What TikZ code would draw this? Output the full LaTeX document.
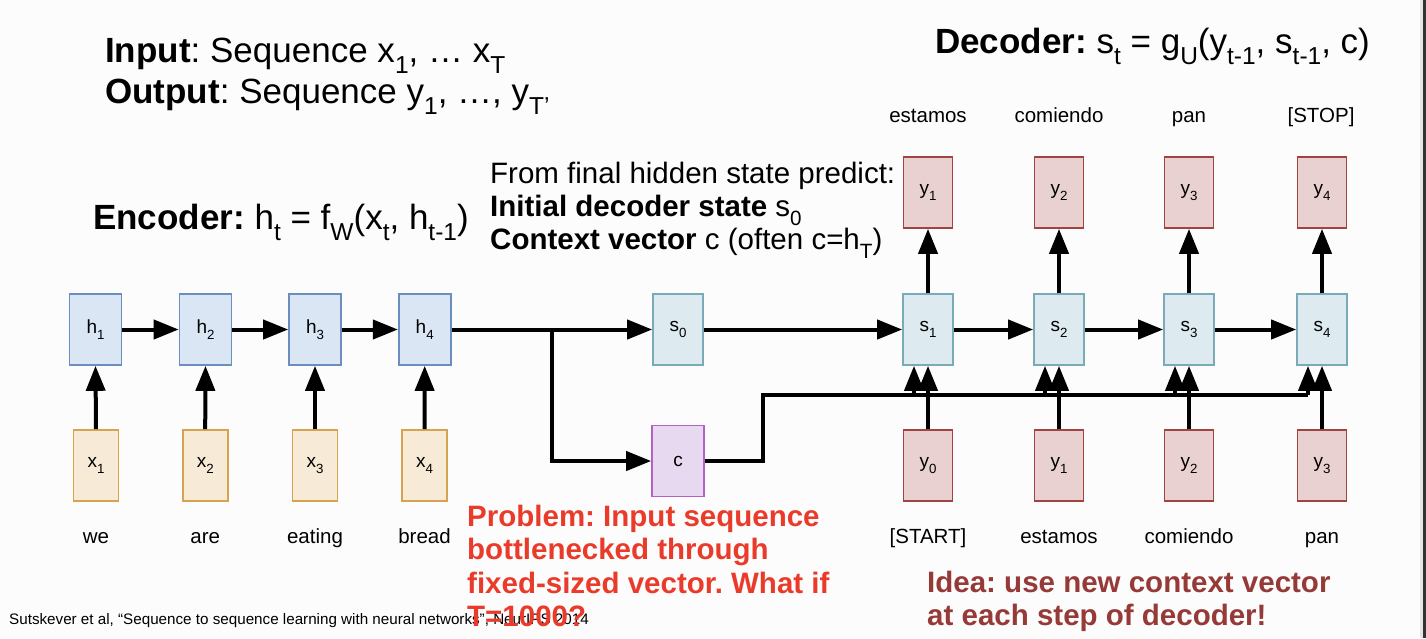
\documentclass[tikz,border=0pt]{standalone}
\usepackage{fontspec}
\setmainfont{Liberation Sans}
\usepackage{graphicx}
\usetikzlibrary{arrows.meta,calc}
\frenchspacing
\definecolor{bg}{HTML}{FCFCFC}
\definecolor{hfill}{HTML}{DAE6F4}
\definecolor{hdraw}{HTML}{6C8EBF}
\definecolor{xfill}{HTML}{F7EAD6}
\definecolor{xdraw}{HTML}{D6A350}
\definecolor{sfill}{HTML}{DDEAEF}
\definecolor{sdraw}{HTML}{7AAAB8}
\definecolor{cfill}{HTML}{E7D9EF}
\definecolor{cdraw}{HTML}{B75FC8}
\definecolor{yfill}{HTML}{E9D0D1}
\definecolor{ydraw}{HTML}{A04441}
\definecolor{probred}{HTML}{EA3B2A}
\definecolor{ideared}{HTML}{963A38}
\newcommand\sbs[1]{\raisebox{-0.32em}{\scalebox{0.7}{#1}}}
\tikzset{
  box/.style={rectangle, line width=1.6pt, minimum height=71pt, inner sep=0pt, font=\fontsize{19}{21}\selectfont},
  hbox/.style={box, minimum width=52pt, fill=hfill, draw=hdraw},
  xbox/.style={box, minimum width=45pt, fill=xfill, draw=xdraw},
  sbox/.style={box, minimum width=50pt, fill=sfill, draw=sdraw},
  cbox/.style={box, minimum width=52pt, fill=cfill, draw=cdraw},
  ybox/.style={box, minimum width=49pt, fill=yfill, draw=ydraw},
  arr/.style={line width=4pt, -{Triangle[length=25pt,width=19pt]}},
  ln/.style={line width=4pt},
  word/.style={font=\fontsize{20.5}{24}\selectfont, anchor=base, inner sep=0pt},
  title/.style={font=\fontsize{29.5}{32}\selectfont, anchor=base west, inner sep=0pt},
  bigtitle/.style={font=\fontsize{35}{40}\selectfont, anchor=base west, inner sep=0pt},
  prob/.style={font=\fontsize{29.5}{32}\selectfont\bfseries, text=probred, anchor=base west, inner sep=0pt},
  idea/.style={font=\fontsize{29.5}{32}\selectfont\bfseries, text=ideared, anchor=base west, inner sep=0pt},
}
\begin{document}
\begin{tikzpicture}[x=1pt,y=-1pt]
\fill[bg] (0,0) rectangle (1426,638);
\useasboundingbox (0,0) rectangle (1426,638);
\fill[gray!20] (1419.5,0) rectangle (1422.5,638);
\fill[black!80] (1422.5,0) rectangle (1426,638);

% titles
\node[bigtitle] (in1) at (105,62) {\textbf{Input}: Sequence x\sbs{1}, … x\sbs{T}};
\node[bigtitle] (in2) at (105,103) {\textbf{Output}: Sequence y\sbs{1}, …, y\sbs{T'}};
\node[bigtitle] (dect) at (935,53) {\textbf{Decoder:} s\sbs{t} = g\sbs{U}(y\sbs{t-1}, s\sbs{t-1}, c)};
\node[bigtitle] (enct) at (93,229) {\textbf{Encoder:} h\sbs{t} = f\sbs{W}(x\sbs{t}, h\sbs{t-1})};
\node[title] (fr1) at (490,183) {From final hidden state predict:};
\node[title] (fr2) at (490,216) {\textbf{Initial decoder state} s\sbs{0}};
\node[title] (fr3) at (490,249) {\textbf{Context vector} c (often c=h\sbs{T})};

% encoder
\node[hbox] (h1) at (95.5,329.5) {h\sbs{1}};
\node[hbox] (h2) at (205.5,329.5) {h\sbs{2}};
\node[hbox] (h3) at (315,329.5) {h\sbs{3}};
\node[hbox] (h4) at (424.7,329.5) {h\sbs{4}};
\node[xbox] (x1) at (96,465.5) {x\sbs{1}};
\node[xbox] (x2) at (205.2,465.5) {x\sbs{2}};
\node[xbox] (x3) at (315,465.5) {x\sbs{3}};
\node[xbox] (x4) at (424.5,465.5) {x\sbs{4}};
\node[word] (w1) at (96,543) {we};
\node[word] (w2) at (205.2,543) {are};
\node[word] (w3) at (315,543) {eating};
\node[word] (w4) at (424.5,543) {bread};

\node[sbox] (s0) at (678,329.5) {s\sbs{0}};
\node[cbox] (c) at (678,461) {c};

% decoder
\node[sbox] (s1) at (928,329.5) {s\sbs{1}};
\node[sbox] (s2) at (1059,329.5) {s\sbs{2}};
\node[sbox] (s3) at (1189,329.5) {s\sbs{3}};
\node[sbox] (s4) at (1322,329.5) {s\sbs{4}};
\node[ybox] (yt1) at (928,192.5) {y\sbs{1}};
\node[ybox] (yt2) at (1059,192.5) {y\sbs{2}};
\node[ybox] (yt3) at (1189,192.5) {y\sbs{3}};
\node[ybox] (yt4) at (1322,192.5) {y\sbs{4}};
\node[ybox] (yb0) at (928,465.5) {y\sbs{0}};
\node[ybox] (yb1) at (1059,465.5) {y\sbs{1}};
\node[ybox] (yb2) at (1189,465.5) {y\sbs{2}};
\node[ybox] (yb3) at (1322,465.5) {y\sbs{3}};
\node[word] (o1) at (928,122) {estamos};
\node[word] (o2) at (1059,122) {comiendo};
\node[word] (o3) at (1189,122) {pan};
\node[word] (o4) at (1321,122) {[STOP]};
\node[word] (i0) at (928,543) {[START]};
\node[word] (i1) at (1059,543) {estamos};
\node[word] (i2) at (1189,543) {comiendo};
\node[word] (i3) at (1322,543) {pan};

% encoder connectors
\foreach \i in {1,2,3,4} { \draw[arr] (x\i.north) -- (h\i.south); }
\draw[arr] (h1.east) -- (h2.west);
\draw[arr] (h2.east) -- (h3.west);
\draw[arr] (h3.east) -- (h4.west);
\coordinate (br) at (552,329.5);
\draw[arr] (h4.east) -- (s0.west);
\draw[arr] (br) |- (c.west);

% decoder connectors
\draw[arr] (s0.east) -- (s1.west);
\draw[arr] (s1.east) -- (s2.west);
\draw[arr] (s2.east) -- (s3.west);
\draw[arr] (s3.east) -- (s4.west);
\draw[arr] (s1.north) -- (yt1.south);
\draw[arr] (s2.north) -- (yt2.south);
\draw[arr] (s3.north) -- (yt3.south);
\draw[arr] (s4.north) -- (yt4.south);
\draw[arr] (yb0.north) -- (s1.south);
\draw[arr] (yb1.north) -- (s2.south);
\draw[arr] (yb2.north) -- (s3.south);
\draw[arr] (yb3.north) -- (s4.south);
\coordinate (cb) at (763,395);
\coordinate (ce) at (1308,395);
\draw[ln] (c.east) -| (cb) -- (ce);
\foreach \s in {s1,s2,s3} {
  \draw[arr] ([xshift=-14pt]\s.south |- cb) -- ([xshift=-14pt]\s.south);
}
\draw[arr] ([xshift=-14pt]s4.south |- ce) -- ([xshift=-14pt]s4.south);

% citation and notes
\node[anchor=base west, inner sep=0pt, font=\fontsize{15.2}{17}\selectfont] (cite) at (9,624) {Sutskever et al, “Sequence to sequence learning with neural networks”, NeurIPS 2014};
\node[prob] (p1) at (467,526) {Problem: Input sequence};
\node[prob] (p2) at (467,559.5) {bottlenecked through};
\node[prob] (p3) at (467,593) {fixed-sized vector. What if};
\node[prob] (p4) at (467,626.5) {T=1000?};
\node[idea] (d1) at (927,592) {Idea: use new context vector};
\node[idea] (d2) at (927,625) {at each step of decoder!};
\end{tikzpicture}
\end{document}
